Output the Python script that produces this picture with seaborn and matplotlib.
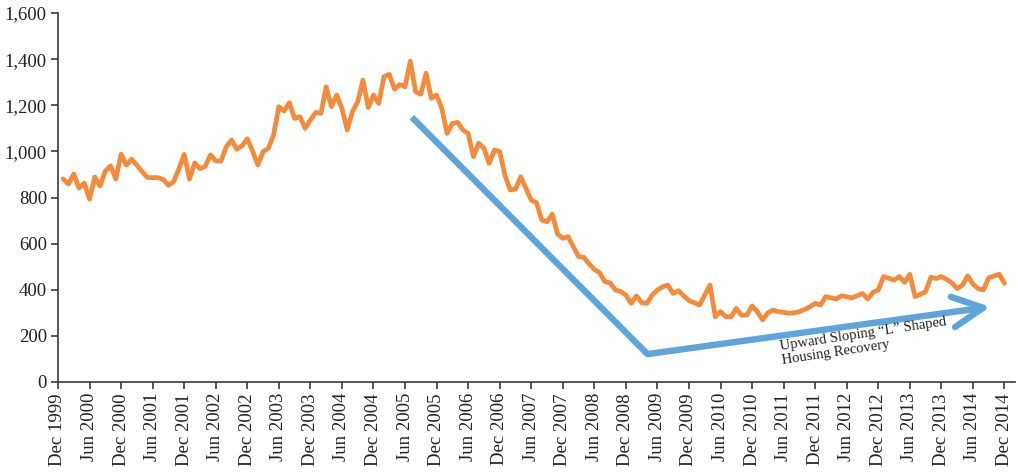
import matplotlib
matplotlib.use("Agg")
import matplotlib.pyplot as plt
import seaborn as sns
import pandas as pd
import numpy as np

# ---- data: new home sales (thousands), monthly Jan 2000 .. Dec 2014 ----
sales_2000 = [880, 858, 902, 841, 862, 793, 889, 850, 915, 937, 880, 988]
sales_2001 = [941, 966, 940, 912, 887, 886, 886, 878, 853, 868, 925, 987]
sales_2002 = [880, 950, 925, 935, 985, 958, 958, 1020, 1049, 1009, 1024, 1054]
sales_2003 = [1002, 941, 999, 1013, 1071, 1194, 1175, 1211, 1143, 1150, 1100, 1136]
sales_2004 = [1169, 1165, 1280, 1194, 1244, 1186, 1093, 1172, 1215, 1309, 1190, 1244]
sales_2005 = [1208, 1324, 1334, 1270, 1290, 1280, 1391, 1259, 1248, 1339, 1230, 1244]
sales_2006 = [1186, 1078, 1121, 1126, 1093, 1078, 977, 1035, 1014, 948, 1006, 999]
sales_2007 = [897, 833, 836, 890, 840, 789, 778, 702, 695, 728, 642, 623]
sales_2008 = [630, 587, 544, 541, 512, 488, 474, 435, 430, 399, 392, 377]
sales_2009 = [341, 373, 344, 341, 377, 399, 413, 420, 384, 396, 373, 353]
sales_2010 = [344, 334, 377, 420, 283, 305, 283, 283, 319, 290, 290, 330]
sales_2011 = [305, 269, 300, 312, 305, 302, 298, 300, 305, 315, 326, 341]
sales_2012 = [334, 370, 365, 360, 374, 370, 365, 374, 384, 360, 389, 399]
sales_2013 = [457, 450, 442, 457, 432, 467, 370, 380, 392, 454, 449, 457]
sales_2014 = [445, 430, 405, 420, 460, 425, 405, 399, 452, 460, 467, 428]

tick_labels = ["Dec 1999", "Jun 2000", "Dec 2000", "Jun 2001", "Dec 2001",
               "Jun 2002", "Dec 2002", "Jun 2003", "Dec 2003", "Jun 2004",
               "Dec 2004", "Jun 2005", "Dec 2005", "Jun 2006", "Dec 2006",
               "Jun 2007", "Dec 2007", "Jun 2008", "Dec 2008", "Jun 2009",
               "Dec 2009", "Jun 2010", "Dec 2010", "Jun 2011", "Dec 2011",
               "Jun 2012", "Dec 2012", "Jun 2013", "Dec 2013", "Jun 2014",
               "Dec 2014"]
y_ticks = [0, 200, 400, 600, 800, 1000, 1200, 1400, 1600]

annotation_text = "Upward Sloping \u201cL\u201d Shaped\nHousing Recovery"
# annotation arrow path (month index, value)
arrow_x = [67.3, 112.1, 177.3]
arrow_y = [1148, 121, 326]

sales = (sales_2000 + sales_2001 + sales_2002 + sales_2003 + sales_2004 +
         sales_2005 + sales_2006 + sales_2007 + sales_2008 + sales_2009 +
         sales_2010 + sales_2011 + sales_2012 + sales_2013 + sales_2014)
df = pd.DataFrame({"month": np.arange(1, len(sales) + 1), "sales": sales})

sns.set_style("ticks")
plt.rcParams["font.family"] = ["Liberation Serif", "DejaVu Serif"]

fig = plt.figure(figsize=(10.18, 4.72), dpi=100)
ax = fig.add_axes([58 / 1018, 90 / 472, (1015 - 58) / 1018, (382 - 13) / 472])

ORANGE = "#F58A3A"
BLUE = "#5DA5DC"
AXC = "#3a3a3a"

sns.lineplot(data=df, x="month", y="sales", ax=ax, color=ORANGE, linewidth=3.4,
             solid_joinstyle="round", solid_capstyle="round")

# annotation arrow
ax.plot(arrow_x[:2], arrow_y[:2], color=BLUE, linewidth=4.6,
        solid_capstyle="butt", solid_joinstyle="miter")
ax.annotate("", xy=(arrow_x[2], arrow_y[2]), xytext=(arrow_x[1], arrow_y[1]),
            arrowprops=dict(arrowstyle="->,head_length=1.1,head_width=0.55",
                            color=BLUE, lw=4.6, mutation_scale=20,
                            shrinkA=0, shrinkB=0, joinstyle="round",
                            capstyle="round"))
ax.text(137.2, 180, annotation_text, rotation=8.5, rotation_mode="anchor",
        ha="left", va="top", fontsize=10.5, color="#222222", linespacing=1.1)

ax.set_xlim(0, 182)
ax.set_ylim(0, 1600)
ax.set_xticks(np.arange(0, 181, 6))
ax.set_xticklabels(tick_labels, rotation=90, fontsize=13.5, color="#222222")
ax.set_yticks(y_ticks)
ax.set_yticklabels([f"{v:,}" for v in y_ticks], fontsize=13.5, color="#222222")
ax.set_xlabel("")
ax.set_ylabel("")

for s in ["top", "right"]:
    ax.spines[s].set_visible(False)
for s in ["left", "bottom"]:
    ax.spines[s].set_color(AXC)
    ax.spines[s].set_linewidth(1.2)
ax.tick_params(axis="both", direction="out", length=5, width=1.2, color=AXC, pad=3)

fig.savefig("out.png", dpi=100)
